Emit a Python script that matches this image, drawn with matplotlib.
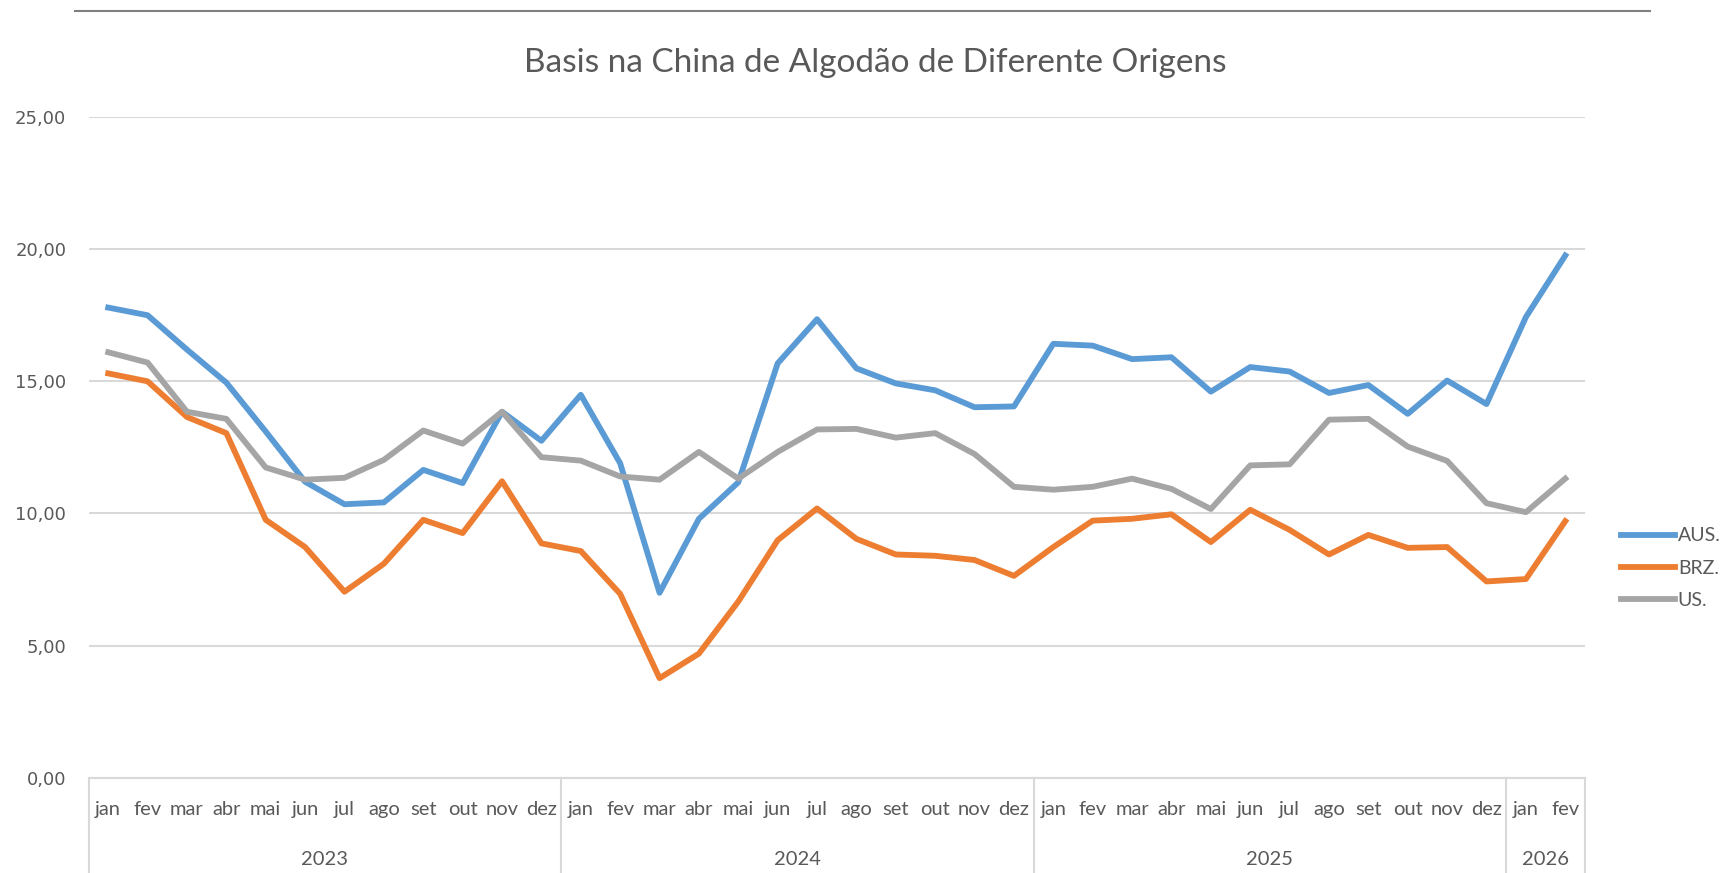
import matplotlib
matplotlib.use('Agg')
import matplotlib.pyplot as plt
from matplotlib.lines import Line2D

plt.rcParams['font.family'] = ['Lato', 'DejaVu Sans']

# dados (jan/2023 a fev/2026)
meses = ['jan', 'fev', 'mar', 'abr', 'mai', 'jun', 'jul', 'ago', 'set', 'out', 'nov', 'dez'] * 3 + ['jan', 'fev']
anos = ['2023', '2024', '2025', '2026']
meses_por_ano = [12, 12, 12, 2]

aus = [17.79, 17.50, 16.20, 14.95, 13.10, 11.20, 10.35, 10.42, 11.65, 11.15, 13.85, 12.75,
       14.49, 11.90, 7.00, 9.80, 11.18, 15.68, 17.35, 15.49, 14.92, 14.66, 14.02, 14.05,
       16.42, 16.35, 15.84, 15.91, 14.61, 15.54, 15.37, 14.56, 14.86, 13.77, 15.03, 14.14,
       17.43, 19.76]
brz = [15.30, 15.00, 13.65, 13.04, 9.76, 8.73, 7.04, 8.10, 9.76, 9.26, 11.22, 8.87,
       8.58, 6.96, 3.77, 4.70, 6.67, 8.99, 10.19, 9.04, 8.45, 8.40, 8.24, 7.64,
       8.73, 9.73, 9.80, 9.97, 8.92, 10.14, 9.38, 8.45, 9.19, 8.70, 8.73, 7.43,
       7.52, 9.71]
us = [16.10, 15.71, 13.85, 13.58, 11.74, 11.28, 11.35, 12.03, 13.14, 12.64, 13.85, 12.13,
      12.00, 11.40, 11.28, 12.33, 11.32, 12.33, 13.18, 13.20, 12.87, 13.04, 12.25, 11.01,
      10.90, 11.01, 11.32, 10.93, 10.17, 11.82, 11.86, 13.55, 13.58, 12.53, 11.99, 10.39,
      10.05, 11.32]

cor_texto = '#595959'
cor_grade = '#d9d9d9'

fig = plt.figure(figsize=(17.36, 8.73), dpi=100)
ax = fig.add_axes([0.051, 0.109, 0.862, 0.757])

x = list(range(len(meses)))
ax.plot(x, aus, color='#5b9bd5', lw=4.2, label='AUS.', solid_joinstyle='round')
ax.plot(x, brz, color='#ed7d31', lw=4.2, label='BRZ.', solid_joinstyle='round')
ax.plot(x, us, color='#a5a5a5', lw=4.2, label='US.', solid_joinstyle='round')

ax.set_xlim(-0.5, len(meses) - 0.5)
ax.set_ylim(0, 25)
ax.set_yticks([0, 5, 10, 15, 20, 25])
ax.set_yticklabels([f'{v:.2f}'.replace('.', ',') for v in [0, 5, 10, 15, 20, 25]],
                   fontsize=13, color=cor_texto, family='DejaVu Sans')
ax.yaxis.grid(True, color=cor_grade, lw=1.5)
ax.set_axisbelow(True)
ax.tick_params(axis='y', length=0, pad=16)

ax.set_xticks(x)
ax.set_xticklabels(meses, fontsize=14.5, color=cor_texto)
ax.tick_params(axis='x', length=0, pad=17)

for s in ['top', 'right', 'left']:
    ax.spines[s].set_visible(False)
ax.spines['bottom'].set_color(cor_grade)
ax.spines['bottom'].set_linewidth(1.5)

# eixo de categorias em dois níveis (anos)
tr = ax.get_xaxis_transform()
inicio = -0.5
ax.plot([inicio, inicio], [0, -0.145], transform=tr, color=cor_grade, lw=1.5, clip_on=False)
for ano, n in zip(anos, meses_por_ano):
    fim = inicio + n
    ax.text((inicio + fim) / 2, -0.123, ano, transform=tr, ha='center', va='center',
            fontsize=14.5, color=cor_texto)
    ax.plot([fim, fim], [0, -0.145], transform=tr, color=cor_grade, lw=1.5, clip_on=False)
    inicio = fim

fig.text(0.504, 1 - 63 / 873, 'Basis na China de Algodão de Diferente Origens',
         ha='center', va='center', fontsize=24, color=cor_texto)

fig.add_artist(Line2D([75 / 1736, 1650 / 1736], [1 - 11 / 873] * 2, color='#7f7f7f', lw=1.5))

ax.legend(loc='center left', bbox_to_anchor=(1621 / 1736, 1 - 568 / 873),
          bbox_transform=fig.transFigure, frameon=False, fontsize=14, borderpad=0,
          borderaxespad=0, handlelength=2.8, handletextpad=0.12, labelspacing=0.78,
          labelcolor=cor_texto)

fig.savefig('out.png', dpi=100)
